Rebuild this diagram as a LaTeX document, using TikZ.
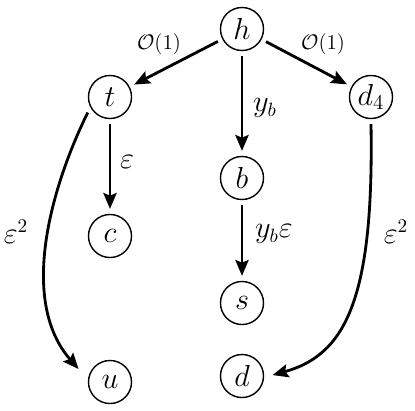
\documentclass[tikz,border=0pt]{standalone}
\usetikzlibrary{arrows.meta}
\begin{document}
\begin{tikzpicture}[x=0.02cm,y=-0.02cm,
  nd/.style={circle,draw,line width=0.8pt,minimum size=24.5pt,inner sep=0pt,outer sep=3.2pt,font=\fontsize{17}{20}\selectfont},
  ar/.style={line width=1.6pt,-{Stealth[length=9pt,width=7.5pt,inset=1.5pt]}},
  lb/.style={font=\fontsize{16}{19}\selectfont},
  sl/.style={font=\fontsize{12}{14}\selectfont}]
\useasboundingbox (0,0) rectangle (415,410);
\node[nd] (h) at (242,29) {$h$};
\node[nd] (t) at (110,97) {$t$};
\node[nd] (d4) at (371,97) {$d_4$};
\node[nd] (b) at (242,178) {$b$};
\node[nd] (c) at (110,236) {$c$};
\node[nd] (s) at (242,303) {$s$};
\node[nd] (u) at (110,382) {$u$};
\node[nd] (d) at (242,376) {$d$};
\draw[ar] (h) -- (t);
\draw[ar] (h) -- (d4);
\draw[ar] (h) -- (b);
\draw[ar] (t) -- (c);
\draw[ar] (b) -- (s);
\draw[ar,shorten >=4.5pt] (t.215) .. controls (52,185) and (18,300) .. (u.165);
\draw[ar,shorten >=2pt] (d4.south) .. controls (374,300) and (345,355) .. (d.0);
\node[sl] (l1) at (159,44) {$\mathcal{O}(1)$};
\node[sl] (l2) at (323,44) {$\mathcal{O}(1)$};
\node[lb] (l3) at (265,108) {$y_b$};
\node[lb] (l4) at (127,162) {$\varepsilon$};
\node[lb] (l5) at (16,232) {$\varepsilon^2$};
\node[lb] (l6) at (274,234) {$y_b\varepsilon$};
\node[lb] (l7) at (396,232) {$\varepsilon^2$};
\end{tikzpicture}
\end{document}
